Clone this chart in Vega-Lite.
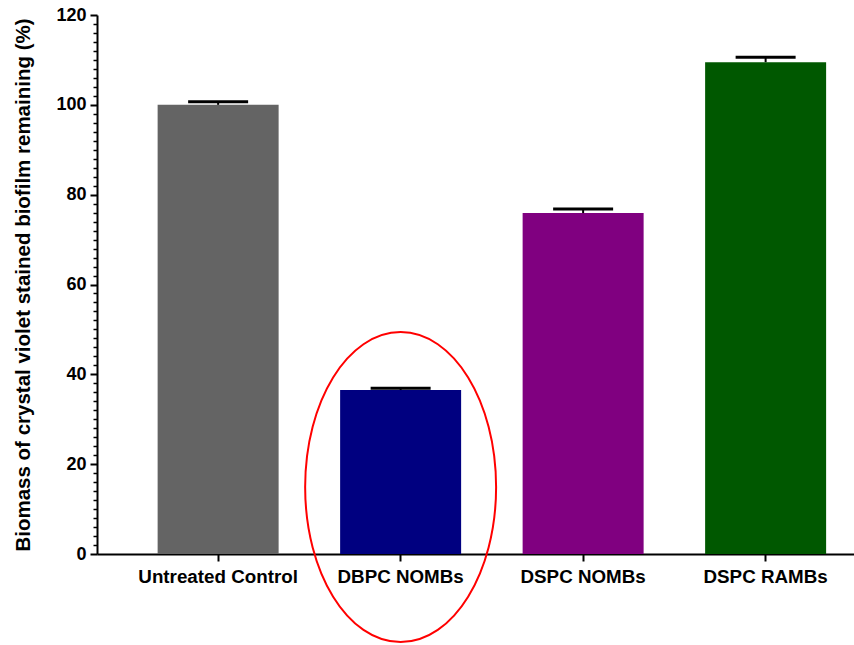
{
  "$schema": "https://vega.github.io/schema/vega-lite/v6.json",
  "autosize": {"type": "none"},
  "padding": {"left": 97, "top": 15, "right": 0, "bottom": 91},
  "width": 757,
  "height": 539,
  "config": {
    "view": {"stroke": null},
    "font": "Liberation Sans"
  },
  "datasets": {
    "bars": [
      {"group": "Untreated Control", "value": 100.0, "upper": 100.7},
      {"group": "DBPC NOMBs", "value": 36.5, "upper": 36.9},
      {"group": "DSPC NOMBs", "value": 75.9, "upper": 76.8},
      {"group": "DSPC RAMBs", "value": 109.5, "upper": 110.6}
    ],
    "mark": [
      {"group": "DBPC NOMBs", "center": 14.9}
    ]
  },
  "layer": [
    {
      "data": {"name": "bars"},
      "mark": {"type": "bar"},
      "encoding": {
        "x": {
          "field": "group", "type": "nominal", "sort": null,
          "scale": {"paddingInner": 0.337, "paddingOuter": 0.2425, "align": 0.685},
          "axis": {
            "title": null, "labelAngle": 0, "labelFont": "Liberation Sans", "labelFontWeight": "bold",
            "labelFontSize": 18.8, "labelColor": "#000", "labelPadding": 6,
            "domainColor": "#000", "domainWidth": 2, "tickColor": "#000", "tickWidth": 2, "tickSize": 7
          }
        },
        "y": {
          "field": "value", "type": "quantitative",
          "scale": {"domain": [0, 120], "nice": false},
          "axis": {
            "title": "Biomass of crystal violet stained biofilm remaining (%)",
            "titleFont": "Liberation Sans", "titleFontWeight": "bold", "titleFontSize": 20.5, "titleColor": "#000",
            "titlePadding": 22,
            "values": [0,2,4,6,8,10,12,14,16,18,20,22,24,26,28,30,32,34,36,38,40,42,44,46,48,50,52,54,56,58,60,62,64,66,68,70,72,74,76,78,80,82,84,86,88,90,92,94,96,98,100,102,104,106,108,110,112,114,116,118,120],
            "labelExpr": "datum.value % 20 === 0 ? datum.label : ''",
            "labelOverlap": false,
            "grid": false,
            "labelFont": "Liberation Sans", "labelFontWeight": "bold", "labelFontSize": 18, "labelColor": "#000",
            "labelPadding": 4,
            "domainColor": "#000", "domainWidth": 2, "tickColor": "#000",
            "tickWidth": {"condition": {"test": "datum.value % 20 === 0", "value": 2}, "value": 1.5},
            "tickSize": {"condition": {"test": "datum.value % 20 === 0", "value": 7}, "value": 4}
          }
        },
        "color": {
          "field": "group", "type": "nominal", "legend": null,
          "scale": {
            "domain": ["Untreated Control", "DBPC NOMBs", "DSPC NOMBs", "DSPC RAMBs"],
            "range": ["#646464", "#000080", "#800080", "#005800"]
          }
        }
      }
    },
    {
      "data": {"name": "bars"},
      "mark": {"type": "rule", "color": "#000", "strokeWidth": 2, "opacity": 1},
      "encoding": {
        "x": {"field": "group", "type": "nominal", "sort": null},
        "y": {"field": "value", "type": "quantitative", "axis": null},
        "y2": {"field": "upper"}
      }
    },
    {
      "data": {"name": "bars"},
      "mark": {"type": "tick", "color": "#000", "thickness": 3, "size": 60, "opacity": 1},
      "encoding": {
        "x": {"field": "group", "type": "nominal", "sort": null},
        "y": {"field": "upper", "type": "quantitative", "axis": null}
      }
    },
    {
      "data": {"name": "mark"},
      "mark": {
        "type": "point",
        "shape": "M0,-1 A0.616,1 0 1,1 0,1 A0.616,1 0 1,1 0,-1 Z",
        "size": 96100, "filled": false, "stroke": "#ff0000", "strokeWidth": 2, "opacity": 1
      },
      "encoding": {
        "x": {"field": "group", "type": "nominal", "sort": null},
        "y": {"field": "center", "type": "quantitative", "axis": null}
      }
    }
  ],
  "resolve": {"axis": {"y": "independent"}}
}
